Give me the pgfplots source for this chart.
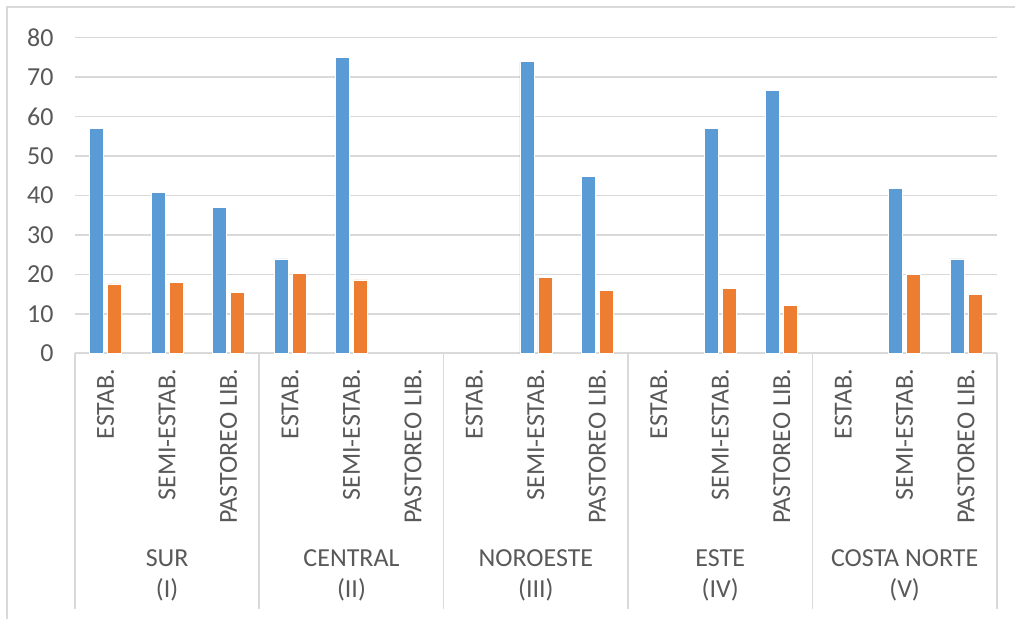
\documentclass[border=0pt]{standalone}
\usepackage{pgfplots}
\pgfplotsset{compat=1.18}
\usepackage{fontspec}
\setmainfont{Carlito}
\definecolor{xlblue}{HTML}{5B9BD5}
\definecolor{xlorange}{HTML}{ED7D31}
\definecolor{xlgrid}{HTML}{D9D9D9}
\definecolor{xltext}{HTML}{595959}
\begin{document}
\begin{tikzpicture}
\begin{axis}[
  scale only axis,
  width=461.5pt, height=158pt,
  ybar=2pt, bar width=7pt,
  xmin=-0.5, xmax=14.5,
  ymin=0, ymax=80,
  ytick={0,10,...,80},
  xtick={0,...,14},
  xticklabels={ESTAB., SEMI-ESTAB., PASTOREO LIB.,
               ESTAB., SEMI-ESTAB., PASTOREO LIB.,
               ESTAB., SEMI-ESTAB., PASTOREO LIB.,
               ESTAB., SEMI-ESTAB., PASTOREO LIB.,
               ESTAB., SEMI-ESTAB., PASTOREO LIB.},
  ymajorgrids, grid style={xlgrid, line width=0.8pt},
  axis line style={draw=none},
  major tick length=0pt,
  tick label style={font=\fontsize{13}{15}\selectfont, text=xltext},
  /pgf/number format/assume math mode=true,
  yticklabel style={inner sep=0pt, xshift=-10.5pt},
  xticklabel style={rotate=90, anchor=east, inner sep=0pt, xshift=-7.5pt},
  clip=false,
]
% blue series
\addplot[fill=xlblue, draw=white, line width=0.3pt] coordinates {
  (0,57.0) (1,40.8) (2,37.0)
  (3,23.9) (4,74.9)
  (7,73.9) (8,44.9)
  (10,57.0) (11,66.7)
  (13,41.8) (14,23.9)};
% orange series
\addplot[fill=xlorange, draw=white, line width=0.3pt] coordinates {
  (0,17.6) (1,18.0) (2,15.5)
  (3,20.3) (4,18.6)
  (7,19.3) (8,15.9)
  (10,16.5) (11,12.2)
  (13,20.0) (14,14.9)};

% group separators
\foreach \s in {-0.5,2.5,5.5,8.5,11.5,14.5}{
  \edef\tmp{\noexpand\draw[xlgrid, line width=0.8pt] (axis cs:\s,0) -- ++(0pt,-128.2pt);}
  \tmp
}
% group labels
\foreach \c/\t in {1/{SUR\\(I)}, 4/{CENTRAL\\(II)}, 7/{NOROESTE\\(III)}, 10/{ESTE\\(IV)}, 13/{COSTA NORTE\\(V)}}{
  \edef\tmp{\noexpand\node[align=center, text=xltext, font=\noexpand\fontsize{13}{15.5}\noexpand\selectfont] at ([yshift=-111.4pt]axis cs:\c,0) {\unexpanded\expandafter{\t}};}
  \tmp
}
\end{axis}
% frame (top and left edges visible)
\draw[xlgrid, line width=1.2pt] (-34pt,-133.15pt) -- (-34pt,173.4pt) -- (470.5pt,173.4pt);
\path[use as bounding box] (-37.5pt,-133.15pt) rectangle (470.5pt,176.85pt);
\end{tikzpicture}
\end{document}
